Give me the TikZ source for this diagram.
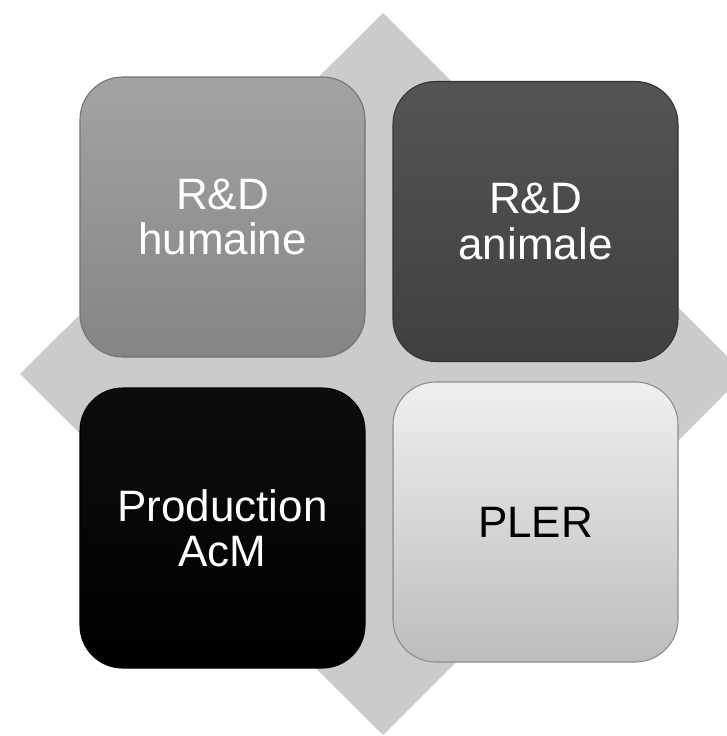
\documentclass[tikz,border=0pt]{standalone}
\usepackage{fontspec}
\setmainfont{Liberation Sans}
\begin{document}
\begin{tikzpicture}[x=0.75pt,y=-0.75pt,
  tile/.style={rounded corners=32pt,minimum width=213.75pt,minimum height=210pt,
    inner sep=0pt,align=center,line width=0.8pt,
    font=\fontsize{33}{34}\selectfont}]
\definecolor{diam}{HTML}{CBCBCB}
\useasboundingbox (0,0) rectangle (727,736);
\clip (0,0) rectangle (727,736);
\fill[diam] (383,13)--(745,374)--(383,735)--(20,374)--cycle;
\node[tile,top color=black!36,bottom color=black!48,draw=black!55,text=white] (hum) at (222.5,217) {R\&D\\humaine};
\node[tile,top color=black!67,bottom color=black!75,draw=black!80,text=white] (ani) at (535.5,221.5) {R\&D\\animale};
\node[tile,top color=black!95,bottom color=black,draw=black,text=white] (acm) at (222.5,528) {Production\\AcM};
\node[tile,top color=black!6,bottom color=black!26,draw=black!45,text=black] (pler) at (535.5,522) {PLER};
\end{tikzpicture}
\end{document}
